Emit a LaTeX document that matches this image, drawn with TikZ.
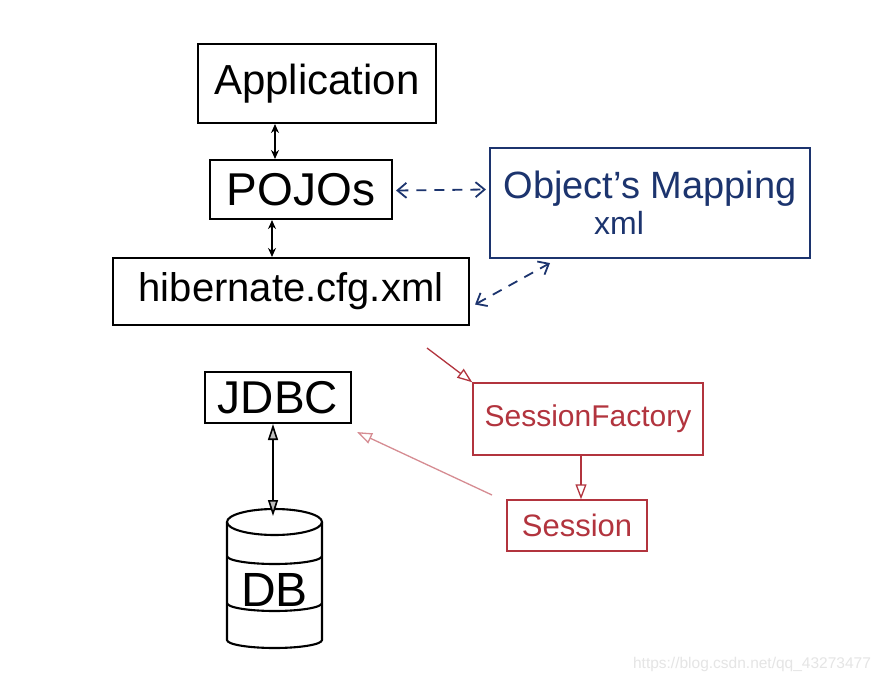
\documentclass[tikz,border=0pt]{standalone}
\usepackage{fontspec}
\setmainfont{Liberation Sans}
\usepackage{xcolor}
\usepackage{tikz}
\usetikzlibrary{arrows.meta}

\definecolor{mapblue}{RGB}{28,52,110}
\definecolor{sfred}{RGB}{178,52,62}
\definecolor{sfpink}{RGB}{214,140,146}
\newcommand{\txtsize}[1]{\fontsize{#1}{#1}\selectfont}

\begin{document}
\begin{tikzpicture}[x=1pt, y=-1pt,
    box/.style={draw, line width=2.1pt, inner sep=0pt},
    dbl/.style={{Stealth[length=9pt,width=8pt]}-{Stealth[length=9pt,width=8pt]}, line width=1.5pt},
    bluedash/.style={{Straight Barb[length=9pt,width=15pt]}-{Straight Barb[length=9pt,width=15pt]}, color=mapblue, line width=1.8pt, dash pattern=on 10pt off 8pt},
    redarr/.style={-{Triangle[open,length=15pt,width=11pt]}, color=sfred, line width=1.3pt},
    dbarr/.style={{Triangle[fill=gray!50,length=16pt,width=10pt]}-{Triangle[fill=gray!50,length=16pt,width=10pt]}, line width=1.6pt}]
          \fill[white] (0,0) rectangle (884,683);
          \useasboundingbox (0,0) rectangle (884,683);

          \node[box, minimum width=238pt, minimum height=79pt, font=\txtsize{42}] (app) at (317,83.5) {Application};
          \node[box, minimum width=182pt, minimum height=59pt, font=\txtsize{46}] (pojo) at (301,189.5) {POJOs};
          \node[box, minimum width=356pt, minimum height=67pt, font=\txtsize{40}] (hib) at (291,291.5) {hibernate.cfg.xml};
          \node[box, draw=mapblue, text=mapblue, minimum width=320pt, minimum height=110pt, align=center, font=\txtsize{38}] (map) at (650,203) {Object's Mapping\\[-2pt]{\txtsize{32}xml\hspace*{62pt}}};
          \node[box, minimum width=146pt, minimum height=51pt, font=\txtsize{46}] (jdbc) at (278,397.5) {JDBC};
          \node[box, draw=sfred, text=sfred, line width=1.5pt, minimum width=230pt, minimum height=72pt, font=\txtsize{30}] (sf) at (588,419) {SessionFactory};
          \node[box, draw=sfred, text=sfred, line width=1.5pt, minimum width=140pt, minimum height=51pt, font=\txtsize{31}] (sess) at (577,525.5) {Session};
          \node[font=\txtsize{48}] (db) at (274.5,590) {DB};
          \node[font=\txtsize{15.5}, text=black!10] (wm) at (752,664) {https://blog.csdn.net/qq\_43273477};

          \draw[line width=2.1pt] (274.5,522) ellipse [x radius=47.5, y radius=13];
          \draw[line width=2.1pt] (227,522) -- (227,640) arc[start angle=180, end angle=0, x radius=47.5, y radius=8] -- (322,522);
          \foreach \y in {556,603}{%
            \draw[line width=2.1pt] (227,\y) arc[start angle=180, end angle=0, x radius=47.5, y radius=8];
          }

          \coordinate (dbtop) at (273,516);
          \coordinate (cfgout) at (427,348);
          \coordinate (sessout) at (492,495);

          \draw[dbl] ([xshift=-42pt]app.south) -- ([xshift=-26pt]pojo.north);
          \draw[dbl] ([xshift=-29pt]pojo.south) -- ([xshift=-19pt]hib.north);
          \draw[bluedash] ([xshift=3pt,yshift=-1pt]pojo.east) -- ([xshift=-3pt]pojo.east -| map.west);
          \draw[bluedash] ([xshift=5pt,yshift=-13pt]hib.east) -- ([xshift=-100pt,yshift=-4pt]map.south);
          \draw[redarr] (cfgout) -- (sf.north west);
          \draw[redarr] ([xshift=-7pt]sf.south) -- ([xshift=4pt]sess.north);
          \draw[redarr, color=sfpink] (sessout) -- ([xshift=5pt,yshift=-8pt]jdbc.south east);
          \draw[dbarr] ([xshift=-5pt]jdbc.south) -- (dbtop);
        \end{tikzpicture}
\end{document}
